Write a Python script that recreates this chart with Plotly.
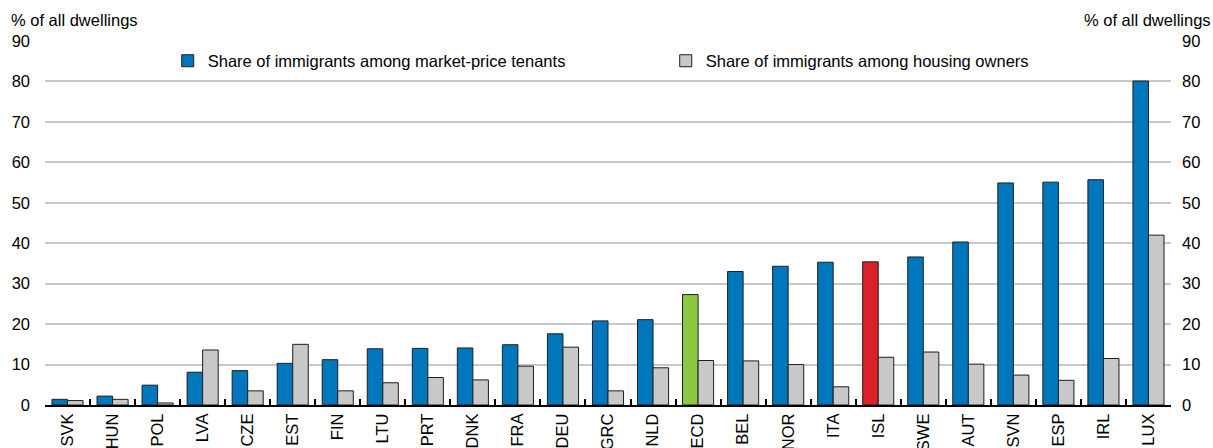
import plotly.graph_objects as go

# Countries ordered by share of immigrants among market-price tenants
countries = ["SVK", "HUN", "POL", "LVA", "CZE", "EST", "FIN", "LTU", "PRT", "DNK",
             "FRA", "DEU", "GRC", "NLD", "OECD", "BEL", "NOR", "ITA", "ISL", "SWE",
             "AUT", "SVN", "ESP", "IRL", "LUX"]

# % of all dwellings
tenants = [1.4, 2.2, 4.9, 8.1, 8.5, 10.3, 11.2, 13.9, 14.0, 14.1,
           14.9, 17.6, 20.8, 21.1, 27.3, 33.0, 34.3, 35.3, 35.4, 36.6,
           40.3, 54.9, 55.1, 55.7, 80.1]
owners = [1.1, 1.4, 0.5, 13.6, 3.5, 15.0, 3.5, 5.5, 6.8, 6.2,
          9.6, 14.3, 3.5, 9.2, 11.0, 10.9, 10.0, 4.5, 11.8, 13.1,
          10.1, 7.4, 6.1, 11.5, 42.0]

y_ticks = [0, 10, 20, 30, 40, 50, 60, 70, 80, 90]

BLUE = "#0077BD"
GREY = "#C8C8C8"
GREEN = "#8CC841"
RED = "#DA2128"
EDGE = "#1E1E1E"

tenant_colors = [GREEN if c == "OECD" else RED if c == "ISL" else BLUE for c in countries]

FONT = "Liberation Sans, Arial, sans-serif"
FS = 16.5

fig = go.Figure()
fig.add_trace(go.Bar(
    x=countries, y=tenants, name="Share of immigrants among market-price tenants",
    marker=dict(color=tenant_colors, line=dict(color=EDGE, width=1)),
))
fig.add_trace(go.Bar(
    x=countries, y=owners, name="Share of immigrants among housing owners",
    marker=dict(color=GREY, line=dict(color=EDGE, width=1)),
))
# Carrier for the mirrored right-hand axis
fig.add_trace(go.Scatter(
    x=[countries[0]], y=[0], yaxis="y2", mode="markers",
    marker=dict(opacity=0), showlegend=False, hoverinfo="skip",
))

fig.update_layout(
    width=1213, height=448,
    margin=dict(l=45, r=42, t=41, b=43, pad=0),
    paper_bgcolor="white", plot_bgcolor="white",
    font=dict(family=FONT, size=FS, color="#000000"),
    barmode="group", bargap=0.31, bargroupgap=0,
    showlegend=True,
    legend=dict(
        orientation="h", x=0.109, xanchor="left", y=0.945, yanchor="middle",
        font=dict(size=FS), entrywidth=453, entrywidthmode="pixels",
        bgcolor="rgba(0,0,0,0)", itemwidth=30,
    ),
    xaxis=dict(
        type="category", range=[-0.5, len(countries) - 0.5], automargin=False,
        tickangle=-90, tickfont=dict(size=FS),
        showline=True, linecolor="#000000", linewidth=2,
        ticks="inside", tickson="boundaries", ticklen=6, tickcolor="#000000", tickwidth=2,
        showgrid=False, zeroline=False,
    ),
    yaxis=dict(
        range=[0, 90], tickvals=y_ticks, tickfont=dict(size=FS), automargin=False,
        showgrid=True, gridcolor="#C8C8C8", gridwidth=1.5,
        zeroline=False, showline=False, ticks="", ticklabelstandoff=14,
    ),
    yaxis2=dict(
        range=[0, 90], tickvals=y_ticks, tickfont=dict(size=FS), automargin=False,
        overlaying="y", side="right", showgrid=False, zeroline=False,
        showline=False, ticks="", ticklabelstandoff=10,
    ),
    annotations=[
        dict(text="% of all dwellings", xref="paper", yref="paper", x=-0.032, y=1.0,
             yshift=10, xanchor="left", yanchor="bottom", showarrow=False,
             font=dict(size=FS)),
        dict(text="% of all dwellings", xref="paper", yref="paper", x=1.037, y=1.0,
             yshift=10, xanchor="right", yanchor="bottom", showarrow=False,
             font=dict(size=FS)),
    ],
)

fig.write_html("out.html")
